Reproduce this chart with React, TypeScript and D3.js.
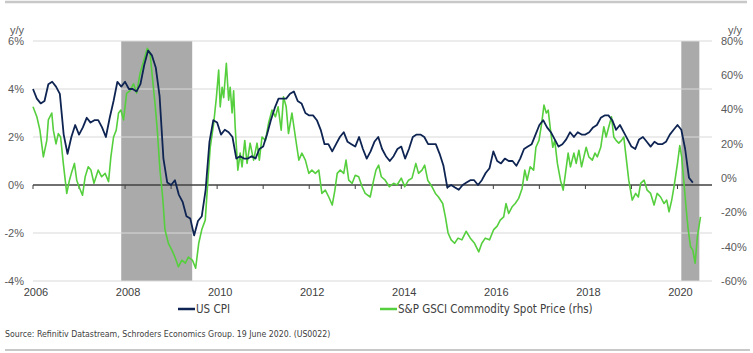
import React, { useEffect, useRef } from "react";
import * as d3 from "d3";

// US CPI y/y %, monthly, Jan 2006 - May 2020
const cpiValues = [
  4.0, 3.6, 3.4, 3.5, 4.2, 4.3, 4.1, 3.8, 2.1, 1.3, 2.0, 2.5,
  2.1, 2.4, 2.8, 2.6, 2.7, 2.7, 2.4, 2.0, 2.8, 3.5, 4.3, 4.1,
  4.3, 4.0, 4.0, 3.9, 4.2, 5.0, 5.6, 5.4, 4.9, 3.7, 1.1, 0.1,
  0.0, 0.2, -0.4, -0.7, -1.3, -1.4, -2.1, -1.5, -1.3, -0.2, 1.8, 2.7,
  2.6, 2.1, 2.3, 2.2, 2.0, 1.1, 1.2, 1.1, 1.1, 1.2, 1.1, 1.5,
  1.6, 2.1, 2.7, 3.2, 3.6, 3.6, 3.6, 3.8, 3.9, 3.5, 3.4, 3.0,
  2.9, 2.9, 2.7, 2.3, 1.7, 1.7, 1.4, 1.7, 2.0, 2.2, 1.8, 1.7,
  1.6, 2.0, 1.5, 1.1, 1.4, 1.8, 2.0, 1.5, 1.2, 1.0, 1.2, 1.5,
  1.6, 1.1, 1.5, 2.0, 2.1, 2.1, 2.0, 1.7, 1.7, 1.7, 1.3, 0.8,
  -0.1, 0.0, -0.1, -0.2, 0.0, 0.1, 0.2, 0.2, 0.0, 0.2, 0.5, 0.7,
  1.4, 1.0, 0.9, 1.1, 1.0, 1.0, 0.8, 1.1, 1.5, 1.6, 1.7, 2.1,
  2.5, 2.7, 2.4, 2.2, 1.9, 1.6, 1.7, 1.9, 2.2, 2.0, 2.2, 2.1,
  2.1, 2.2, 2.4, 2.5, 2.8, 2.9, 2.9, 2.7, 2.3, 2.5, 2.2, 1.9,
  1.6, 1.5, 1.9, 2.0, 1.8, 1.6, 1.8, 1.7, 1.7, 1.8, 2.1, 2.3,
  2.5, 2.3, 1.5, 0.3, 0.1,
];

// S&P GSCI spot y/y %, [months since Jan 2006, value]
const gsciPoints: [number, number][] = [
  [0, 41.6], [1, 35.8], [1.8, 28], [2.7, 12.4], [3.6, 22], [4.0, 34], [4.9, 38], [5.3, 28],
  [6, 20], [6.6, 26], [7.2, 24], [7.9, 8.6], [8.8, -8.9], [9.5, -1.2], [10, 2.8], [10.8, 8.6],
  [11.4, -1.2], [12, -5], [12.9, -10], [13.6, 0.8], [14.4, 6.6], [15.1, 4.7], [15.9, -3], [17, 4.7],
  [17.9, 0.8], [18.8, 2.8], [19.7, -2], [20.3, 12.4], [21, 24], [21.7, 28], [22.3, 38], [22.9, 39.7],
  [23.6, 34], [24.4, 49.4], [25.3, 51], [26.2, 55], [27, 49.6], [27.9, 61], [28.9, 68.8], [29.8, 75.7],
  [30.5, 73], [31.2, 57], [31.8, 43.7], [32.4, 28], [33.1, 4.7], [33.8, -11], [34.4, -30], [35.3, -38],
  [36.2, -42], [37, -46], [37.9, -51.7], [38.8, -47.8], [39.7, -49.6], [40.5, -46], [41.6, -48], [42.4, -52.5],
  [43.2, -38], [44, -30], [44.9, -24.5], [45.6, -1], [46.2, 18], [47.1, 32], [47.8, 47], [48.4, 63],
  [48.8, 41.6], [49.3, 53], [49.7, 47], [50.4, 67], [51, 45.5], [51.4, 53], [51.9, 38], [52.3, 51],
  [52.7, 30], [53.4, 4.7], [54, 14.6], [54.5, 6.6], [55.2, 22], [55.8, 8.6], [56.6, 20.4], [57.5, 10.5],
  [58.4, 20.4], [59, 10.5], [59.7, 24], [60.6, 22], [61.4, 32], [62.3, 39.7], [63.2, 35.8], [63.9, 41.6],
  [64.7, 28], [65.3, 47.4], [66, 41.6], [66.6, 26], [67.5, 38], [68.4, 24], [69.3, 10.5], [70.1, 14.6],
  [71, 10.5], [71.9, 2.8], [72.7, 4.7], [73.6, 2.8], [74.5, 4.7], [75.3, -8.9], [76.2, -7], [77.1, -11],
  [78, -15.7], [78.7, -7], [79.3, 2.8], [80.1, 4.7], [81, 2.8], [81.6, 10.5], [82.3, -1.2], [83.2, -3],
  [84, 1.7], [84.9, 0.8], [85.8, -5], [86.6, -8.9], [87.9, -11], [88.8, -1.2], [89.4, 4.7], [90.1, 7.6],
  [90.8, 0.8], [91.8, -1.2], [92.9, -5], [94, -3], [94.9, -4], [96, 0], [96.9, -5], [97.9, -1.2],
  [98.8, 0], [99.8, 8.6], [100.5, 2.8], [101.4, 4.7], [102.1, 7.6], [102.9, -1.2], [104, -5], [104.9, -8.9],
  [105.7, -11], [106.8, -14.8], [107.5, -22.6], [108.2, -32], [109, -36], [109.9, -38], [110.8, -35], [111.8, -36],
  [112.9, -31], [114, -35], [115.1, -38], [116.2, -43], [117, -38], [117.9, -35], [119, -36], [120.1, -30],
  [121, -28], [121.8, -24.5], [122.7, -22.6], [123.3, -14.8], [124, -20.6], [124.9, -16.7], [125.7, -14.8], [126.6, -11.8],
  [127.5, -6], [128.2, 4.7], [128.8, -1.2], [129.6, 6.6], [130.5, 4.7], [131.1, 18], [131.9, 22], [132.6, 32],
  [133.2, 42.6], [133.8, 38], [134.3, 39.7], [134.9, 28], [135.5, 18], [136, 22], [136.7, 8.6], [137.5, -1.2],
  [138.2, -7], [138.8, 2.8], [139.5, 14.6], [140.1, 6.6], [141, 14.6], [141.6, 8.6], [142.3, 16.3], [143, 6.6],
  [143.6, 12.4], [144.2, 18], [144.9, 12.4], [145.8, 10.5], [146.5, 14.6], [147.1, 12.4], [148, 18], [148.8, 30],
  [149.4, 24], [150.1, 30], [150.8, 35.8], [151.4, 24], [152, 22], [152.7, 20.4], [153.4, 22], [154, 24],
  [154.7, 10.5], [155.3, -1.2], [156.2, -12.8], [157.1, -8.9], [157.8, -11], [158.4, -3], [159.3, -1.2], [160.1, -7],
  [161, -8.9], [161.9, -15.7], [162.7, -8.9], [163.6, -11], [164.5, -14.8], [165.2, -12.8], [165.8, -19.6], [166.5, -12.8],
  [167.1, -5], [168, 8.6], [168.6, 19], [169.1, 12.4], [169.7, -3], [170.3, -18.7], [170.8, -30], [171.4, -40],
  [172, -42], [172.6, -49.6], [173.2, -34], [174, -22.6],
];

// US recessions, months since Jan 2006
const recessions = [
  [23, 41.5],
  [169, 173.7],
];

const leftTicks = [6, 4, 2, 0, -2, -4];
const rightTicks = [80, 60, 40, 20, 0, -20, -40, -60];
const yearLabels = [2006, 2008, 2010, 2012, 2014, 2016, 2018, 2020];

const NAVY = "#0e2452";
const GREEN = "#55cf3d";
const FONT = "'Liberation Sans', Arial, sans-serif";
const NARROW = "'Liberation Sans Narrow', 'Arial Narrow', 'DejaVu Sans Condensed', sans-serif";

const App = () => {
  const svgRef = useRef<SVGSVGElement | null>(null);

  useEffect(() => {
    const svg = d3.select(svgRef.current);
    svg.selectAll("*").remove();

    const x = d3.scaleLinear().domain([0, 177]).range([33, 712]);
    const yL = d3.scaleLinear().domain([-4, 6]).range([281, 41]);
    const yR = d3.scaleLinear().domain([-60, 80]).range([281, 41]);

    // frame lines top and bottom
    svg.append("line").attr("x1", 5).attr("x2", 747).attr("y1", 2).attr("y2", 2)
      .attr("stroke", "#c8c8c8").attr("stroke-width", 2.5);
    svg.append("line").attr("x1", 5).attr("x2", 750).attr("y1", 350).attr("y2", 350)
      .attr("stroke", "#c8c8c8").attr("stroke-width", 2);

    // recession shading
    svg.append("g").selectAll("rect").data(recessions).enter().append("rect")
      .attr("x", (d) => x(d[0]))
      .attr("width", (d) => x(d[1]) - x(d[0]))
      .attr("y", yL(6))
      .attr("height", yL(-4) - yL(6))
      .attr("fill", "#aaaaaa");

    // gridlines
    svg.append("g").selectAll("line").data(leftTicks.filter((t) => t !== 0)).enter().append("line")
      .attr("x1", x(0)).attr("x2", x(177))
      .attr("y1", (d) => yL(d)).attr("y2", (d) => yL(d))
      .attr("stroke", "#d9d9d9").attr("stroke-width", 1);

    // left axis labels
    svg.append("g").selectAll("text").data(leftTicks).enter().append("text")
      .attr("x", 24).attr("y", (d) => yL(d)).attr("dy", "0.35em")
      .attr("text-anchor", "end")
      .style("font-family", FONT).style("font-size", "11px").attr("fill", "#595959")
      .text((d) => `${d}%`);
    svg.append("text").attr("x", 24).attr("y", 30).attr("dy", "0.35em").attr("text-anchor", "end")
      .style("font-family", FONT).style("font-size", "11px").attr("fill", "#595959").text("y/y");

    // right axis labels
    svg.append("g").selectAll("text").data(rightTicks).enter().append("text")
      .attr("x", 721).attr("y", (d) => yR(d)).attr("dy", "0.35em")
      .style("font-family", FONT).style("font-size", "11px").attr("fill", "#595959")
      .text((d) => `${d}%`);
    svg.append("text").attr("x", 742).attr("y", 30).attr("dy", "0.35em").attr("text-anchor", "end")
      .style("font-family", FONT).style("font-size", "11px").attr("fill", "#595959").text("y/y");

    // zero line with yearly ticks
    svg.append("line").attr("x1", x(0)).attr("x2", x(177))
      .attr("y1", yL(0)).attr("y2", yL(0))
      .attr("stroke", "#404040").attr("stroke-width", 1.3);
    svg.append("g").selectAll("line").data(d3.range(0, 177, 12)).enter().append("line")
      .attr("x1", (d) => x(d)).attr("x2", (d) => x(d))
      .attr("y1", yL(0)).attr("y2", yL(0) + 4)
      .attr("stroke", "#404040").attr("stroke-width", 1);

    // year labels
    svg.append("g").selectAll("text").data(yearLabels).enter().append("text")
      .attr("x", (d) => x((d - 2006) * 12) + 3).attr("y", 296)
      .attr("text-anchor", "middle")
      .style("font-family", FONT).style("font-size", "11px").attr("fill", "#404040")
      .text((d) => d);

    // GSCI line (rhs)
    const gLine = d3.line<[number, number]>()
      .x((d) => x(d[0]))
      .y((d) => yR(d[1]));
    svg.append("path").datum(gsciPoints)
      .attr("fill", "none").attr("stroke", GREEN).attr("stroke-width", 1.6)
      .attr("stroke-linejoin", "round")
      .attr("d", gLine);

    // CPI line
    const cLine = d3.line<number>()
      .x((d, i) => x(i))
      .y((d) => yL(d));
    svg.append("path").datum(cpiValues)
      .attr("fill", "none").attr("stroke", NAVY).attr("stroke-width", 1.8)
      .attr("stroke-linejoin", "round")
      .attr("d", cLine);

    // legend
    const legendItems = [
      { label: "US CPI", color: NAVY, x: 178 },
      { label: "S&P GSCI Commodity Spot Price (rhs)", color: GREEN, x: 380 },
    ];
    const legend = svg.append("g").selectAll("g").data(legendItems).enter().append("g")
      .attr("transform", (d) => `translate(${d.x}, 309)`);
    legend.append("line").attr("x1", 0).attr("x2", 17).attr("y1", 0).attr("y2", 0)
      .attr("stroke", (d) => d.color).attr("stroke-width", 2.5);
    legend.append("text").attr("x", 18).attr("dy", "0.35em")
      .style("font-family", NARROW).style("font-size", "11.5px").attr("fill", "#404040")
      .text((d) => d.label);

    // source
    svg.append("text").attr("x", 5).attr("y", 334).attr("dy", "0.35em")
      .style("font-family", NARROW).style("font-size", "8.7px").attr("fill", "#404040")
      .text("Source: Refinitiv Datastream, Schroders Economics Group. 19 June 2020. (US0022)");
  }, []);

  return (
    <svg
      ref={svgRef}
      width={753}
      height={353}
      style={{ position: "absolute", left: 0, top: 0, background: "#ffffff" }}
    />
  );
};

export default App;
